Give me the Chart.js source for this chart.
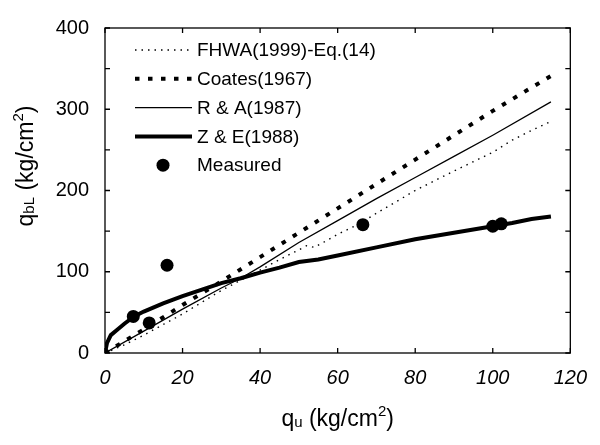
<!DOCTYPE html>
<html>
<head>
<meta charset="utf-8">
<script src="https://cdn.jsdelivr.net/npm/chart.js@4.4.0/dist/chart.umd.min.js"></script>
<style>
  html, body { margin: 0; padding: 0; background: #fff; }
  #wrap { width: 600px; height: 445px; }
</style>
</head>
<body>
<div id="wrap"><canvas id="chart"></canvas></div>
<script>
// values (qu, qbL in kg/cm2)
const fhwaX = [0, 5, 10, 20, 30, 40, 45, 50, 52, 54, 60, 66, 70, 80, 90, 100, 105, 110, 115];
const fhwaY = [0, 10, 22, 48, 77, 102, 115, 127, 132, 130, 146, 160, 172, 200, 224, 247, 262, 274, 285];
const coatesX = [0, 10, 20, 30, 40, 50, 60, 70, 80, 90, 100, 115];
const coatesY = [0, 29, 59, 88, 118, 148, 178, 208, 238, 268, 298, 341];
const raX = [0, 10, 20, 30, 35, 40, 50, 60, 70, 80, 90, 100, 115];
const raY = [0, 27, 54, 80, 92, 106, 136, 163, 190, 216, 242, 268, 309];
const zeX = [0, 0.5, 1.5, 3, 5, 7.5, 10, 15, 20, 25, 30, 35, 40, 45, 50, 55, 60, 70, 80, 90, 100, 105, 110, 115];
const zeY = [0, 12, 22, 28, 36, 45, 51, 61, 70, 78, 86, 92, 99, 105, 112, 115, 120, 130, 140, 148, 156, 160, 165, 168];
const measX = [7.3, 11.4, 16, 66.5, 100, 102.2];
const measY = [45, 37, 108, 158, 156, 159];

const xTicks = [0, 20, 40, 60, 80, 100, 120];
const yTicks = [0, 100, 200, 300, 400];
const yMinorTicks = [0, 50, 100, 150, 200, 250, 300, 350, 400];

const FONT = '"Liberation Sans", Arial, sans-serif';

function pts(xs, ys) {
  return xs.map((x, i) => ({ x: x, y: ys[i] }));
}

// box round the plot + inward ticks
const framePlugin = {
  id: 'frame',
  afterDraw(chart) {
    const ctx = chart.ctx, a = chart.chartArea;
    const sx = chart.scales.x, sy = chart.scales.y;
    ctx.save();
    ctx.strokeStyle = '#000';
    ctx.lineWidth = 1.3;
    ctx.strokeRect(a.left, a.top, a.right - a.left, a.bottom - a.top);
    ctx.beginPath();
    xTicks.forEach(v => {
      const p = sx.getPixelForValue(v);
      ctx.moveTo(p, a.bottom); ctx.lineTo(p, a.bottom - 5);
      ctx.moveTo(p, a.top); ctx.lineTo(p, a.top + 5);
    });
    yMinorTicks.forEach(v => {
      const p = sy.getPixelForValue(v);
      ctx.moveTo(a.left, p); ctx.lineTo(a.left + 5, p);
      ctx.moveTo(a.right, p); ctx.lineTo(a.right - 5, p);
    });
    ctx.stroke();
    ctx.restore();
  }
};

// draws a run of text pieces with their own size / vertical shift
function drawRuns(ctx, runs, cx, cy) {
  let total = 0;
  runs.forEach(r => {
    ctx.font = r.size + 'px ' + FONT;
    r.w = ctx.measureText(r.t).width;
    total += r.w;
  });
  let x = cx - total / 2;
  ctx.textAlign = 'left';
  ctx.textBaseline = 'alphabetic';
  runs.forEach(r => {
    ctx.font = r.size + 'px ' + FONT;
    ctx.fillText(r.t, x, cy + (r.dy || 0));
    x += r.w;
  });
}

const titlePlugin = {
  id: 'titles',
  afterDraw(chart) {
    const ctx = chart.ctx, a = chart.chartArea;
    ctx.save();
    ctx.fillStyle = '#000';
    drawRuns(ctx, [
      { t: 'q', size: 23 },
      { t: 'u', size: 15, dy: 1 },
      { t: ' (kg/cm', size: 23 },
      { t: '2', size: 15, dy: -10 },
      { t: ')', size: 23 }
    ], (a.left + a.right) / 2, 426);
    ctx.translate(33, 166);
    ctx.rotate(-Math.PI / 2);
    drawRuns(ctx, [
      { t: 'q', size: 23 },
      { t: 'bL', size: 15, dy: 1 },
      { t: ' (kg/cm', size: 23 },
      { t: '2', size: 15, dy: -10 },
      { t: ')', size: 23 }
    ], 0, 0);
    ctx.restore();
  }
};

const legendPlugin = {
  id: 'figLegend',
  afterDraw(chart) {
    const ctx = chart.ctx;
    const x0 = 135, x1 = 192, tx = 197, y0 = 50, dy = 28.8;
    ctx.save();
    ctx.font = '19px ' + FONT;
    ctx.textBaseline = 'middle';
    ctx.textAlign = 'left';
    ctx.fillStyle = '#000';
    chart.data.datasets.forEach((ds, i) => {
      const y = y0 + i * dy;
      if (ds.showLine) {
        ctx.beginPath();
        ctx.strokeStyle = '#000';
        ctx.lineWidth = ds.borderWidth;
        ctx.setLineDash(ds.borderDash || []);
        ctx.moveTo(x0, y);
        ctx.lineTo(x1, y);
        ctx.stroke();
        ctx.setLineDash([]);
      } else {
        ctx.beginPath();
        ctx.arc(163, y, ds.pointRadius, 0, Math.PI * 2);
        ctx.fill();
      }
      ctx.fillText(ds.label, tx, y + 1);
    });
    ctx.restore();
  }
};

const lineDefaults = {
  showLine: true,
  pointRadius: 0,
  borderColor: '#000',
  backgroundColor: '#000',
  fill: false,
  tension: 0
};

new Chart(document.getElementById('chart'), {
  type: 'scatter',
  data: {
    datasets: [
      Object.assign({}, lineDefaults, { label: 'FHWA(1999)-Eq.(14)', data: pts(fhwaX, fhwaY), borderWidth: 1.4, borderDash: [1.5, 5] }),
      Object.assign({}, lineDefaults, { label: 'Coates(1967)', data: pts(coatesX, coatesY), borderWidth: 4, borderDash: [4.5, 8.5] }),
      Object.assign({}, lineDefaults, { label: 'R & A(1987)', data: pts(raX, raY), borderWidth: 1.3 }),
      Object.assign({}, lineDefaults, { label: 'Z & E(1988)', data: pts(zeX, zeY), borderWidth: 4 }),
      { label: 'Measured', data: pts(measX, measY), showLine: false, pointRadius: 6.5, pointHoverRadius: 6.5,
        backgroundColor: '#000', borderColor: '#000', borderWidth: 0 }
    ]
  },
  options: {
    responsive: true,
    maintainAspectRatio: false,
    animation: false,
    events: [],
    layout: { padding: { top: 17, right: 16, left: 0, bottom: 0 } },
    plugins: {
      legend: { display: false },
      tooltip: { enabled: false }
    },
    scales: {
      x: {
        type: 'linear',
        min: 0,
        max: 120,
        afterFit: s => { s.height = 92; },
        afterBuildTicks: s => { s.ticks = xTicks.map(v => ({ value: v })); },
        ticks: {
          color: '#000',
          padding: 13,
          font: { family: FONT, size: 20, style: 'italic' }
        },
        grid: { display: false, drawTicks: false },
        border: { display: false }
      },
      y: {
        type: 'linear',
        min: 0,
        max: 400,
        afterFit: s => { s.width = 105; },
        afterBuildTicks: s => { s.ticks = yTicks.map(v => ({ value: v })); },
        ticks: {
          color: '#000',
          padding: 16,
          font: { family: FONT, size: 20 }
        },
        grid: { display: false, drawTicks: false },
        border: { display: false }
      }
    }
  },
  plugins: [framePlugin, titlePlugin, legendPlugin]
});
</script>
</body>
</html>
